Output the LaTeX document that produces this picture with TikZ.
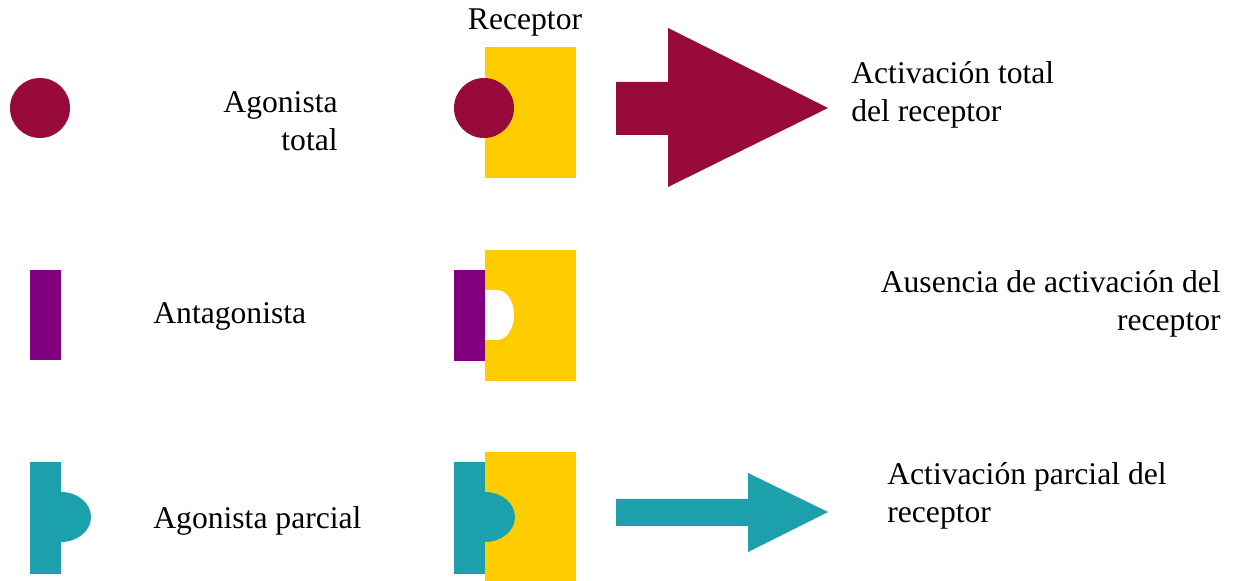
\documentclass[tikz,border=0pt]{standalone}
\usepackage{fontspec}
\setmainfont{Liberation Serif}
\usepackage{tikz}
\definecolor{agored}{RGB}{153,10,60}
\definecolor{recyellow}{RGB}{255,204,0}
\definecolor{antpurple}{RGB}{128,0,128}
\definecolor{parteal}{RGB}{28,161,172}
\tikzset{
    lbl/.style = {inner sep=0pt, font=\fontsize{18}{21.3}\selectfont},
}

\begin{document}
\begin{tikzpicture}[x=0.02cm, y=0.02cm]
        \useasboundingbox (0, 0) rectangle (1233, 581);

        % agonista total
        \fill[agored] (40, 473) circle (30);
        \node[lbl, anchor=east, align=right] (agototal) at (338, 460) {Agonista\\total};
        \fill[recyellow] (485, 403) rectangle (576, 534);
        \fill[agored] (484, 473) circle (30);
        \node[lbl] (receptor) at (525, 558) {Receptor};
        \fill[agored]
        (616, 499) -- (668, 499) -- (668, 553) -- (828, 473)
        -- (668, 394) -- (668, 446) -- (616, 446) -- cycle;
        \node[lbl, anchor=west, align=left] (acttotal) at (851, 486) {Activación total\\del receptor};

        % antagonista
        \fill[antpurple] (30, 221) rectangle (61, 311);
        \node[lbl, anchor=west] (antag) at (153, 265) {Antagonista};
        \fill[recyellow] (485, 200) rectangle (576, 331);
        \fill[antpurple] (454, 220) rectangle (485, 311);
        \fill[white]
        (485, 291) -- (497, 291) arc[start angle=90, end angle=-90, x radius=17, y radius=25]
        -- (485, 241) -- cycle;
        \node[lbl, anchor=east, align=right] (ausencia) at (1221, 277) {Ausencia de activación del\\receptor};

        % agonista parcial
        \fill[parteal] (30, 7) rectangle (61, 119);
        \fill[parteal] (61, 89) arc[start angle=90, end angle=-90, x radius=30, y radius=25] -- cycle;
        \node[lbl, anchor=west] (agoparcial) at (153, 60) {Agonista parcial};
        \fill[recyellow] (485, 0) rectangle (576, 129);
        \fill[parteal] (454, 7) rectangle (485, 119);
        \fill[parteal] (485, 89) arc[start angle=90, end angle=-90, x radius=30, y radius=25] -- cycle;
        \fill[parteal]
        (616, 82) -- (748, 82) -- (748, 108) -- (828, 69)
        -- (748, 29) -- (748, 55) -- (616, 55) -- cycle;
        \node[lbl, anchor=west, align=left] (actparcial) at (887, 85) {Activación parcial del\\receptor};

    \end{tikzpicture}
\end{document}
